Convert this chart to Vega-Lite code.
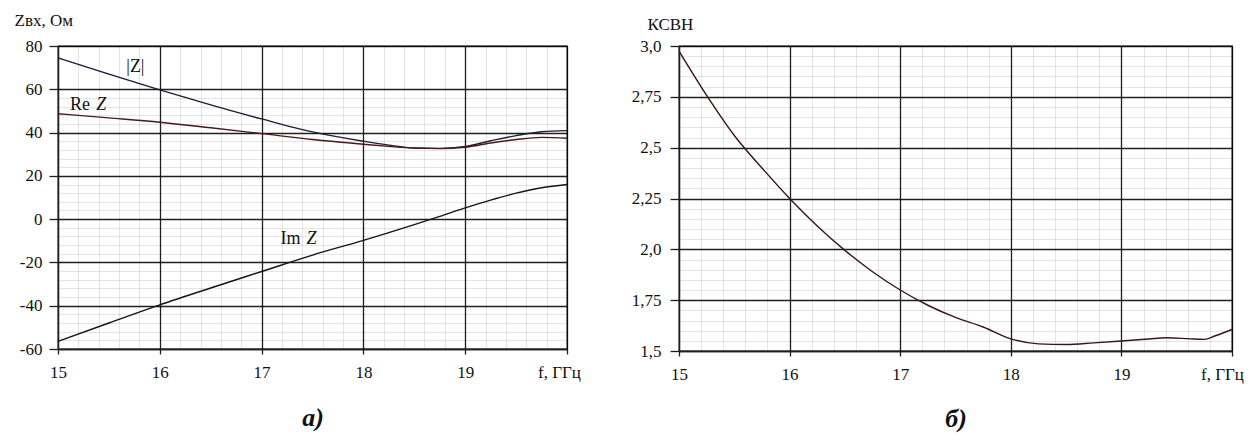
{
  "$schema": "https://vega.github.io/schema/vega-lite/v6.json",
  "padding": {"left": 13, "top": 10, "right": 5, "bottom": 5},
  "bounds": "flush",
  "spacing": 112,
  "background": "white",
  "config": {
    "view": {"stroke": "#1e1e1e", "strokeWidth": 1.3},
    "text": {"font": "Liberation Serif"},
    "axis": {
      "labelFont": "Liberation Serif",
      "labelFontSize": 17,
      "labelColor": "#111",
      "titleFont": "Liberation Serif",
      "titleColor": "#111",
      "titleFontWeight": "normal",
      "domainColor": "#1e1e1e",
      "domainWidth": 1.3,
      "tickColor": "#1e1e1e",
      "tickWidth": 1.3,
      "labelOverlap": false,
      "labelFlush": false,
      "gridColor": "#000"
    }
  },
  "hconcat": [
    {
      "width": 509,
      "height": 303,
      "encoding": {
        "x": {
          "field": "f", "type": "quantitative",
          "scale": {"domain": [15, 20], "nice": false, "zero": false},
          "axis": {
            "values": [15, 15.2, 15.4, 15.6, 15.8, 16, 16.2, 16.4, 16.6, 16.8, 17, 17.2, 17.4, 17.6, 17.8, 18, 18.2, 18.4, 18.6, 18.8, 19, 19.2, 19.4, 19.6, 19.8, 20],
            "grid": true,
            "gridOpacity": {"condition": {"test": "abs(datum.value - round(datum.value)) < 0.001", "value": 0.88}, "value": 0.1},
            "gridWidth": {"condition": {"test": "abs(datum.value - round(datum.value)) < 0.001", "value": 1.3}, "value": 1},
            "tickOpacity": {"condition": {"test": "abs(datum.value - round(datum.value)) < 0.001", "value": 1}, "value": 0},
            "tickSize": 5,
            "labelPadding": 10,
            "labelOffset": {"condition": {"test": "datum.value > 19.5", "value": -8}, "value": 0},
            "labelExpr": "abs(datum.value - round(datum.value)) < 0.001 ? (datum.value > 19.5 ? 'f, ГГц' : '' + round(datum.value)) : ''",
            "title": "а)",
            "titleFontSize": 26,
            "titleFontWeight": "bold",
            "titleFontStyle": "italic",
            "titlePadding": 24
          }
        },
        "y": {
          "field": "v", "type": "quantitative",
          "scale": {"domain": [-60, 80], "nice": false, "zero": false},
          "axis": {
            "values": [-60, -56, -52, -48, -44, -40, -36, -32, -28, -24, -20, -16, -12, -8, -4, 0, 4, 8, 12, 16, 20, 24, 28, 32, 36, 40, 44, 48, 52, 56, 60, 80],
            "grid": true,
            "gridOpacity": {"condition": {"test": "datum.value % 20 == 0", "value": 0.88}, "value": 0.1},
            "gridWidth": {"condition": {"test": "datum.value % 20 == 0", "value": 1.3}, "value": 1},
            "tickOpacity": {"condition": {"test": "datum.value % 20 == 0", "value": 1}, "value": 0},
            "tickSize": 9,
            "labelPadding": 7,
            "labelExpr": "datum.value % 20 == 0 ? '' + datum.value : ''",
            "title": "Zвх, Ом",
            "titleFontSize": 17,
            "titleAngle": 0,
            "titleAlign": "left",
            "titleBaseline": "middle",
            "titleX": -44,
            "titleY": -26
          }
        }
      },
      "layer": [
        {
          "data": {
            "values": [
              {"f": 15, "s": "abs", "v": 74.5}, {"f": 15.5, "s": "abs", "v": 67}, {"f": 16, "s": "abs", "v": 59.7}, {"f": 16.5, "s": "abs", "v": 52.8}, {"f": 17, "s": "abs", "v": 46.3}, {"f": 17.5, "s": "abs", "v": 40.3}, {"f": 18, "s": "abs", "v": 36.0}, {"f": 18.25, "s": "abs", "v": 34.2}, {"f": 18.5, "s": "abs", "v": 32.9}, {"f": 18.75, "s": "abs", "v": 32.7}, {"f": 19, "s": "abs", "v": 33.6}, {"f": 19.25, "s": "abs", "v": 36.2}, {"f": 19.5, "s": "abs", "v": 38.6}, {"f": 19.75, "s": "abs", "v": 40.4}, {"f": 20, "s": "abs", "v": 40.9},
              {"f": 15, "s": "re", "v": 48.7}, {"f": 15.5, "s": "re", "v": 46.8}, {"f": 16, "s": "re", "v": 44.8}, {"f": 16.5, "s": "re", "v": 42.2}, {"f": 17, "s": "re", "v": 39.5}, {"f": 17.5, "s": "re", "v": 36.8}, {"f": 18, "s": "re", "v": 34.6}, {"f": 18.25, "s": "re", "v": 33.6}, {"f": 18.5, "s": "re", "v": 32.8}, {"f": 18.75, "s": "re", "v": 32.6}, {"f": 19, "s": "re", "v": 33.2}, {"f": 19.25, "s": "re", "v": 35.2}, {"f": 19.5, "s": "re", "v": 36.8}, {"f": 19.75, "s": "re", "v": 37.8}, {"f": 20, "s": "re", "v": 37.4},
              {"f": 15, "s": "im", "v": -56.5}, {"f": 15.5, "s": "im", "v": -48}, {"f": 16, "s": "im", "v": -39.6}, {"f": 16.5, "s": "im", "v": -31.8}, {"f": 17, "s": "im", "v": -24.2}, {"f": 17.5, "s": "im", "v": -16.6}, {"f": 18, "s": "im", "v": -9.8}, {"f": 18.25, "s": "im", "v": -6.2}, {"f": 18.5, "s": "im", "v": -2.5}, {"f": 18.75, "s": "im", "v": 1.3}, {"f": 19, "s": "im", "v": 5.2}, {"f": 19.25, "s": "im", "v": 8.8}, {"f": 19.5, "s": "im", "v": 12}, {"f": 19.75, "s": "im", "v": 14.5}, {"f": 20, "s": "im", "v": 16.0}
            ]
          },
          "mark": {"type": "line", "interpolate": "monotone", "strokeWidth": 1.4},
          "encoding": {
            "color": {
              "field": "s", "type": "nominal", "legend": null,
              "scale": {"domain": ["abs", "re", "im"], "range": ["#1c1c38", "#4a1818", "#151515"]}
            }
          }
        },
        {
          "data": {"values": [{"t": "|Z|", "f": 15.76, "v": 70.2}, {"t": "Re", "f": 15.215, "v": 52.9}, {"t": "Im", "f": 17.284, "v": -9.3}]},
          "mark": {"type": "text", "fontSize": 18, "color": "#111"},
          "encoding": {"text": {"field": "t"}}
        },
        {
          "data": {"values": [{"t": "Z", "f": 15.425, "v": 52.9}, {"t": "Z", "f": 17.49, "v": -9.3}]},
          "mark": {"type": "text", "fontSize": 18, "fontStyle": "italic", "color": "#111"},
          "encoding": {"text": {"field": "t"}}
        }
      ]
    },
    {
      "width": 553,
      "height": 305,
      "data": {
        "values": [
          {"f": 15, "k": 2.975}, {"f": 15.25, "k": 2.757}, {"f": 15.5, "k": 2.56}, {"f": 15.75, "k": 2.40}, {"f": 16, "k": 2.25}, {"f": 16.25, "k": 2.115}, {"f": 16.5, "k": 1.995}, {"f": 16.75, "k": 1.89}, {"f": 17, "k": 1.80}, {"f": 17.25, "k": 1.725}, {"f": 17.5, "k": 1.665}, {"f": 17.75, "k": 1.618}, {"f": 18, "k": 1.56}, {"f": 18.25, "k": 1.535}, {"f": 18.5, "k": 1.532}, {"f": 18.75, "k": 1.54}, {"f": 19, "k": 1.549}, {"f": 19.25, "k": 1.559}, {"f": 19.4, "k": 1.565}, {"f": 19.6, "k": 1.561}, {"f": 19.75, "k": 1.557}, {"f": 19.85, "k": 1.575}, {"f": 20, "k": 1.606}
        ]
      },
      "mark": {"type": "line", "interpolate": "monotone", "strokeWidth": 1.4, "color": "#3a1515"},
      "encoding": {
        "x": {
          "field": "f", "type": "quantitative",
          "scale": {"domain": [15, 20], "nice": false, "zero": false},
          "axis": {
            "values": [15, 15.2, 15.4, 15.6, 15.8, 16, 16.2, 16.4, 16.6, 16.8, 17, 17.2, 17.4, 17.6, 17.8, 18, 18.2, 18.4, 18.6, 18.8, 19, 19.2, 19.4, 19.6, 19.8, 20],
            "grid": true,
            "gridOpacity": {"condition": {"test": "abs(datum.value - round(datum.value)) < 0.001", "value": 0.88}, "value": 0.1},
            "gridWidth": {"condition": {"test": "abs(datum.value - round(datum.value)) < 0.001", "value": 1.3}, "value": 1},
            "tickOpacity": {"condition": {"test": "abs(datum.value - round(datum.value)) < 0.001", "value": 1}, "value": 0},
            "tickSize": 5,
            "labelPadding": 10,
            "labelOffset": {"condition": {"test": "datum.value > 19.5", "value": -10}, "value": 0},
            "labelExpr": "abs(datum.value - round(datum.value)) < 0.001 ? (datum.value > 19.5 ? 'f, ГГц' : '' + round(datum.value)) : ''",
            "title": "б)",
            "titleFontSize": 26,
            "titleFontWeight": "bold",
            "titleFontStyle": "italic",
            "titlePadding": 23
          }
        },
        "y": {
          "field": "k", "type": "quantitative",
          "scale": {"domain": [1.5, 3.0], "nice": false, "zero": false},
          "axis": {
            "values": [1.5, 1.55, 1.6, 1.65, 1.7, 1.75, 1.8, 1.85, 1.9, 1.95, 2.0, 2.05, 2.1, 2.15, 2.2, 2.25, 2.3, 2.35, 2.4, 2.45, 2.5, 2.55, 2.6, 2.65, 2.7, 2.75, 2.8, 2.85, 2.9, 2.95, 3.0],
            "grid": true,
            "gridOpacity": {"condition": {"test": "abs(datum.value*4 - round(datum.value*4)) < 0.001", "value": 0.88}, "value": 0.1},
            "gridWidth": {"condition": {"test": "abs(datum.value*4 - round(datum.value*4)) < 0.001", "value": 1.3}, "value": 1},
            "tickOpacity": {"condition": {"test": "abs(datum.value*4 - round(datum.value*4)) < 0.001", "value": 1}, "value": 0},
            "tickSize": 9,
            "labelPadding": 9,
            "labelExpr": "abs(datum.value*4 - round(datum.value*4)) < 0.001 ? replace(format(datum.value, abs(datum.value*2 - round(datum.value*2)) < 0.001 ? '.1f' : '.2f'), '.', ',') : ''",
            "title": "КСВН",
            "titleFontSize": 17,
            "titleAngle": 0,
            "titleAlign": "left",
            "titleBaseline": "middle",
            "titleX": -32,
            "titleY": -22
          }
        }
      }
    }
  ]
}
